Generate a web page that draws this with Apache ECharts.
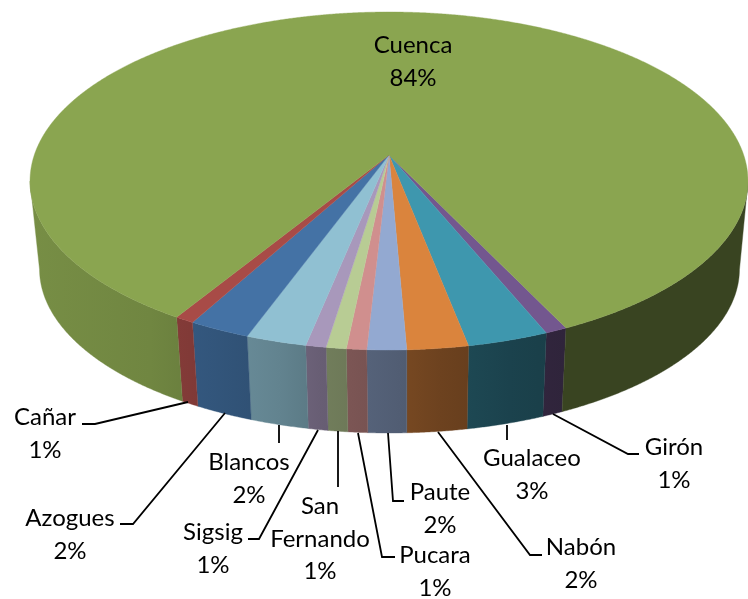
<!DOCTYPE html>
<html><head><meta charset="utf-8">
<style>html,body{margin:0;padding:0;background:#fff}#c{width:748px;height:599px}</style>
<script src="https://cdn.jsdelivr.net/npm/echarts@6/dist/echarts.min.js"></script>
</head><body><div id="c"></div>
<script>
// Data: clockwise on screen from the Girón edge, percentages
const names = ['Girón','Gualaceo','Nabón','Paute','Pucara','San\nFernando','Sigsig','Blancos','Azogues','Cañar','Cuenca'];
const values = [0.86,3.16,2.375,1.52,0.78,0.78,0.79,2.36,2.40,0.75,84.225];
const colors = ['#73578f','#3e97ae','#da843d','#93a9d1','#d08f8e','#b8cc94','#a898bb','#90c0d2','#4472a5','#a84b47','#8aa550'];

// Layout
const START = -25.45;
const TOP = {cx:389, cy:181, rx:359, ry:169, apexY:155, a:354.7, b:165, k:0.1538};
const BASE = {cx:389.5, cy:269, rx:350, ry:164};
const SHADE = [[30,.86],[150,.81],[190,.77],[280,.68],[320,.62],[400,.55],[440,.50],[510,.44],[565,.41],[748,.41]];
const labelPos = [[674,464],[532,475],[581,564],[440,509],[435,572],[320,539],[213,549],[249,479],[70,535],[45,434],[413,62]];
const leaders = [
  [[553,414],[628,454],[639,454]],
  [[507,425],[507,440]],
  [[438,432],[530,555],[542,555]],
  [[388,433],[393,501],[404,501]],
  [[358,433],[382,557],[395,557]],
  [[338,431],[338,487]],
  [[318,430],[259,539],[248,539]],
  [[279,425],[279,443]],
  [[225,413],[133,524],[120,524]],
  [[188,402],[95,424],[82,424]],
  null
];

const total = values.reduce((s,v)=>s+v,0);
function topPt(phi){
  const r = phi*Math.PI/180, u = -Math.sin(r), v = Math.cos(r), d = 1-TOP.k*v;
  return [TOP.cx + TOP.a*u/d, TOP.apexY + TOP.b*v/d];
}
function basePt(p){
  return [BASE.cx + (p[0]-TOP.cx)*BASE.rx/TOP.rx, BASE.cy + (p[1]-TOP.cy)*BASE.ry/TOP.ry];
}
function hexRgb(h){return [1,3,5].map(i=>parseInt(h.substr(i,2),16));}
function wallFill(color){
  const c = hexRgb(color), x0 = 0, x1 = 748;
  return {type:'linear',global:true,x:x0,y:0,x2:x1,y2:0,
    colorStops:SHADE.map(s=>({offset:(s[0]-x0)/(x1-x0),
      color:'rgb('+c.map(q=>Math.round(q*s[1])).join(',')+')'}))};
}
function renderItem(params, api){
  const i = params.dataIndex;
  let before = 0;
  for(let j=0;j<i;j++) before += values[j];
  const v = api.value(0);
  const a0 = START + before/total*360, a1 = a0 + v/total*360;
  const arc = [];
  const n = Math.max(2, Math.ceil((a1-a0)/0.25));
  for(let s=0;s<=n;s++) arc.push(topPt(a0+(a1-a0)*s/n));
  const children = [];
  // wall: only the front half of the rim is visible
  let run = [];
  const flush = ()=>{
    if(run.length>1){
      const pts = run.concat(run.slice().reverse().map(basePt));
      children.push({type:'polygon',shape:{points:pts},
        style:{fill:wallFill(colors[i]),stroke:wallFill(colors[i]),lineWidth:0.4}});
    }
    run = [];
  };
  arc.forEach(p=>{ if(p[1]>=TOP.cy) run.push(p); else flush(); });
  flush();
  // top face
  children.push({type:'polygon',shape:{points:[[TOP.cx,TOP.apexY]].concat(arc)},
    style:{fill:colors[i],stroke:colors[i],lineWidth:0.4},z2:5});
  // leader
  if(leaders[i]) children.push({type:'polyline',shape:{points:leaders[i]},
    style:{fill:null,stroke:'#000',lineWidth:1.8},z2:6});
  // label
  children.push({type:'text',z2:7,style:{
    x:labelPos[i][0],y:labelPos[i][1],
    text:names[i]+'\n'+Math.round(v/total*100)+'%',
    fill:'#000',fontFamily:'Lato',fontSize:24,lineHeight:32.5,
    align:'center',verticalAlign:'middle'}});
  return {type:'group',children};
}
const chart = echarts.init(document.getElementById('c'),null,{renderer:'canvas'});
chart.setOption({
  animation:false,
  backgroundColor:'#fff',
  series:[{type:'custom',coordinateSystem:'none',silent:true,clip:false,
    renderItem,data:values.map((v,i)=>({name:names[i],value:[v]}))}]
});
</script></body></html>
